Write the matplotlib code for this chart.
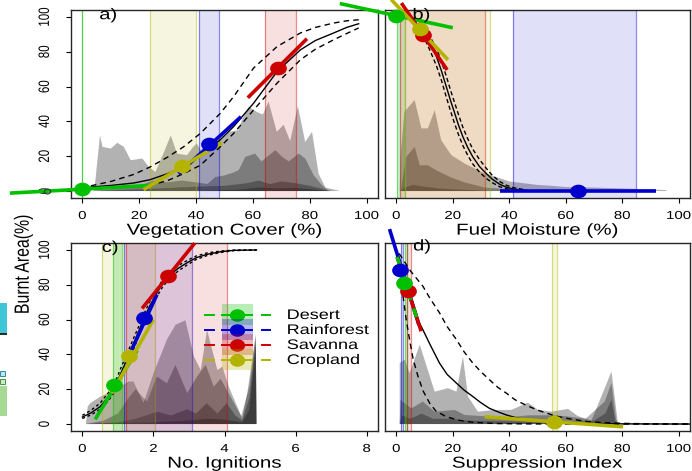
import matplotlib
matplotlib.use("Agg")
import matplotlib.pyplot as plt
from matplotlib.patheffects import AbstractPathEffect
from matplotlib.transforms import Affine2D
from matplotlib.path import Path
from matplotlib.patches import Rectangle

plt.rcParams['font.family'] = ['Liberation Sans', 'DejaVu Sans']

W, H = 692, 471
SX = 1.3          # horizontal widening of glyphs and point markers

# ---------------------------------------------------------------- colours
biomes = ['Desert', 'Rainforest', 'Savanna', 'Cropland']
colours = {'Desert': '#00C000', 'Rainforest': '#0000CC',
           'Savanna': '#CC0000', 'Cropland': '#B4B400'}

# ---------------------------------------------------------------- a) vegetation cover
veg_bands = {'Desert': (0.0, 0.0), 'Cropland': (23.7, 40.0),
             'Rainforest': (41.1, 48.2), 'Savanna': (64.2, 75.0)}
veg_layers = [
    ([3.9, 4.5, 6.2, 7.1, 10, 12.3, 14.6, 17, 21.1, 23.4, 25.7, 28.5, 31.1, 33.3, 36.8, 39, 40.3,
      42, 44, 46.7, 49, 51.4, 54.9, 56.1, 58.5, 61.4, 63.5, 65.5, 68.4, 70.8, 73.1, 75.8, 78.4,
      80.8, 83.1, 85.5, 90.7],
     [0, 5, 32, 25.4, 24.4, 27.7, 25.4, 17.7, 18.7, 13.8, 10.9, 21.5, 32, 21.5, 20.6, 25.4, 27.3,
      22.5, 25, 27.3, 30, 34, 35, 40.8, 48.4, 45.4, 44, 51.3, 34, 38.1, 28.7, 48.8, 28.2,
      34, 10, 2, 0]),
    ([3.9, 10, 20, 25, 30, 35, 40, 44, 46.7, 50, 53, 55, 57.3, 60.8, 63, 67.9, 70, 72.6, 76.1,
      78.4, 81.4, 84.3, 86.7],
     [0, 1, 3, 6, 5, 6, 5, 4, 8, 9, 10.5, 12, 19.6, 21.5, 17, 23.5, 20, 17, 21.5,
      18.7, 9, 3.3, 0]),
    ([5, 20, 40, 50, 58, 62, 66, 70, 75, 80, 85, 88],
     [0, 1, 2.5, 3, 4.5, 6, 4, 5.5, 4.5, 3, 1, 0]),
    ([40, 55, 62, 68, 75, 82, 86],
     [0, 0.8, 2, 1.5, 1.8, 0.8, 0]),
]
veg_x = [3, 10, 18, 23.8, 30, 35.6, 41.5, 48.5, 53.2, 60.2, 68.5, 76.7, 82, 88.4, 93, 97.2]
veg_fit = [2.3, 3.2, 4.6, 6.5, 10, 14, 20.5, 29.5, 37, 50.4, 68.6, 81.1, 86.5, 90.8, 94, 96.1]
veg_hi = [3.0, 5.5, 9.5, 13.8, 19.5, 25.4, 33.1, 44.6, 54.2, 70.6, 83, 90.8, 94, 96.5, 97.8, 98.4]
veg_lo = [1.5, 1.8, 2.5, 3.3, 6, 10, 14.8, 25.4, 33.1, 46.5, 62, 75.4, 81.5, 86.9, 90.5, 93.7]
# biome: (point x, point y, segment x0, y0, x1, y1)
veg_eff = {'Desert': (0, 1.4, -25.5, -1.2, 24.9, 3.3),
           'Rainforest': (44.7, 26.9, 33.8, 10, 55.8, 42.7),
           'Cropland': (35, 14.4, 21.5, 0.8, 49.1, 27.7),
           'Savanna': (68.7, 70.6, 58.2, 53.6, 79, 87.5)}
veg_extra_x, veg_extra_y = [-12.4], [0.0]

# ---------------------------------------------------------------- b) fuel moisture
fm_bands = {'Desert': (0.3, 3.0), 'Savanna': (1.3, 31.3),
            'Cropland': (3.0, 33.2), 'Rainforest': (41.3, 85.0)}
fm_layers = [
    ([1.2, 1.5, 2.9, 6.5, 8.9, 11.2, 13.6, 15.9, 19.5, 24.2, 30.1, 36, 40, 45, 50, 55, 60, 70, 80,
      90, 95.7, 95.7],
     [0, 20, 45.6, 52.3, 36, 36, 46.5, 29.2, 20.6, 15.8, 11, 7.7, 5.5, 4.5, 3.5, 3, 2.3, 2, 1.5,
      1, 0.5, 0]),
    ([1.6, 3.5, 6.5, 8.3, 11.2, 14.2, 19.5, 24.2, 31.3, 40, 50, 60],
     [0, 19.6, 25.4, 14.8, 14.8, 11.9, 7.7, 5, 2, 1, 0.5, 0]),
    ([1.6, 3, 6, 10, 15, 20, 30, 35],
     [0, 2, 3.5, 2.5, 1.5, 1, 0.3, 0]),
]
fm_x = [6, 8.3, 10, 12, 14.2, 16, 17.7, 19.2, 20.7, 22, 23.6, 25.3, 27.1, 29.5, 31.9, 34,
        36.6, 39, 41.3, 46]
fm_fit = [97.5, 95, 90.8, 85, 77.3, 69, 60, 52, 44.6, 38, 31.1, 25, 19.6, 14, 10, 6.8,
          3.9, 2.2, 1.2, 0.3]
fm_hi = [98.5, 96.8, 93.5, 88.5, 82, 74.5, 66, 58, 50.5, 44, 36.5, 30, 24, 18, 13, 9,
         5.5, 3.3, 2.0, 0.6]
fm_lo = [96, 92.5, 87.5, 80.5, 72, 63.5, 54, 46, 38.5, 32.5, 26, 20.5, 15.5, 10.8, 7.2, 4.8,
         2.5, 1.3, 0.6, 0.1]
fm_eff = {'Rainforest': (64.3, 0.2, 36.6, 0.2, 91.9, 0.2),
          'Desert': (0, 100.5, -20, 107.7, 20, 93.8),
          'Savanna': (9.5, 89.8, 1.8, 108, 18, 69.6),
          'Cropland': (8.3, 93, -1.8, 110, 18.3, 75.4)}

# ---------------------------------------------------------------- c) ignitions
ig_bands = {'Cropland': (0.55, 2.05), 'Desert': (0.86, 1.11),
            'Rainforest': (1.17, 3.09), 'Savanna': (1.22, 4.08)}
ig_layers = [
    ([0.1, 0.15, 0.22, 0.5, 0.95, 1.3, 1.44, 1.72, 2.0, 2.38, 2.62, 2.9, 3.14, 3.33, 3.51, 3.8,
      3.94, 4.12, 4.5, 4.64, 4.88, 4.9],
     [0, 10, 12, 15.7, 20, 24.4, 24.4, 12, 29, 48.5, 57, 59.6, 38.8, 31, 54, 31,
      33, 21.5, 3.3, 17.7, 51.3, 0]),
    ([0.1, 0.6, 1.0, 1.3, 1.5, 1.82, 2.1, 2.38, 2.62, 2.95, 3.23, 3.47, 3.7, 3.89, 4.17, 4.47,
      4.7, 4.88, 4.9],
     [0, 2, 6, 15, 20, 12.9, 27.3, 23.4, 34, 17.7, 27.3, 34, 21.5, 26, 15.7, 4.5,
      21.5, 51, 0]),
    ([0.1, 1, 1.5, 2.1, 2.5, 2.95, 3.2, 3.5, 3.8, 4.06, 4.3, 4.5, 4.7, 4.88, 4.9],
     [0, 1, 3, 7, 5, 8.5, 6, 12, 6, 12, 5, 2, 15, 48, 0]),
    ([0.1, 2, 3, 3.5, 4, 4.5, 4.7, 4.88, 4.9],
     [0, 1, 2, 3, 2.5, 1, 8, 45, 0]),
]
ig_x = [0, 0.25, 0.5, 0.75, 0.92, 1.1, 1.3, 1.5, 1.74, 1.9, 2.1, 2.25, 2.43, 2.7, 2.95,
        3.2, 3.51, 3.9, 4.26, 4.9]
ig_fit = [4, 6.5, 10, 16, 21.5, 30, 39.2, 49, 61, 68, 75.4, 80.5, 85, 89.5, 92.7,
          95.5, 97.5, 99, 99.8, 100]
ig_hi = [5, 8, 12, 18.5, 24, 33, 42.5, 52, 63.5, 70.5, 77.5, 82.5, 86.8, 91, 94,
         96.5, 98.3, 99.4, 99.9, 100]
ig_lo = [3.2, 5.3, 8.5, 13.8, 19, 27, 36, 46, 58.5, 65.5, 73.3, 78.5, 83.2, 88, 91.4,
         94.5, 96.8, 98.6, 99.6, 100]
ig_eff = {'Desert': (0.9, 22.7, 0.36, 2.7, 1.54, 42.3),
          'Cropland': (1.3, 39.2, 0.83, 17.7, 2.0, 60),
          'Rainforest': (1.74, 61, 1.3, 38.8, 2.1, 74.4),
          'Savanna': (2.41, 85, 1.68, 66.4, 3.16, 103.9)}

# ---------------------------------------------------------------- d) suppression
sup_bands = {'Rainforest': (1.6, 2.2), 'Desert': (3.2, 3.8),
             'Savanna': (3.8, 5.2), 'Cropland': (55.2, 56.8)}
sup_layers = [
    ([1.2, 1.2, 3, 4.7, 8.3, 13.6, 18.3, 21.3, 23.6, 25.4, 28.9, 34.8, 40.7, 46.6, 50.2, 54.9,
      60.8, 64.3, 69.1, 72.6, 75, 76.2, 77.3, 78.5],
     [0, 35, 37, 29.2, 45.6, 18.6, 20.6, 18.6, 38.8, 15.8, 7.1, 8.1, 8.1, 12.3, 8.1, 7.1,
      8.7, 4.6, 2, 15.8, 25.4, 30.2, 15.8, 0]),
    ([1.2, 1.5, 5.3, 9.4, 13.6, 20.7, 24.2, 30, 40, 47, 55, 60, 67, 73.8, 76.2, 77.8, 78.5],
     [0, 13.8, 9, 12.9, 7.1, 8.1, 5.2, 4.6, 4, 5, 5, 4.5, 3, 12.9, 23.5, 3, 0]),
    ([1.2, 2, 5, 9, 13, 20, 25, 40, 55, 65, 70, 74, 76.2, 77.5, 78.5],
     [0, 5, 3, 6, 3, 3, 2, 1.5, 1.5, 1.5, 2, 6, 14, 2, 0]),
]
sup_fit_x = [1, 3, 5, 7, 9.4, 12, 15.3, 18, 21.3, 24, 27.1, 30, 33, 36, 39, 42, 45.7, 50,
             56.4, 62, 68, 74, 80, 90, 104]
sup_fit = [95, 82, 71, 62, 54.2, 45.5, 35, 28.5, 23.5, 19.5, 15.8, 12.2, 9, 7, 5.2, 3.8,
           2.7, 1.8, 1, 0.6, 0.3, 0.15, 0.1, 0.05, 0]
sup_hi_x = [1, 3, 5, 7, 9.4, 12, 15.3, 18, 21.3, 24, 27.1, 30, 33, 36, 39, 42, 45.7, 50,
            56.4, 62, 68.2, 74, 80, 90, 104]
sup_hi = [98, 93, 88, 84, 79.2, 72, 63.9, 56, 48.5, 41.5, 35, 30, 25.4, 21, 17.7, 14, 11, 8,
          4.6, 2.8, 1.3, 0.8, 0.4, 0.1, 0]
sup_lo_x = [1, 2.4, 3.5, 4.7, 6, 7.7, 9.5, 11.8, 14, 17.7, 22, 27.1, 35, 45, 60, 80, 104]
sup_lo = [96, 73.5, 60, 48.5, 37, 27.3, 19, 12, 7.5, 4.2, 2.2, 1, 0.3, 0.1, 0, 0, 0]
sup_eff = {'Rainforest': (1.2, 88.3, -2.4, 112, 8.0, 57),
           'Savanna': (4.1, 76.3, 0.3, 96, 8.8, 53.3),
           'Desert': (2.9, 81.2, 0.3, 96, 8.0, 57),
           'Cropland': (56, 1.3, 31.3, 4.2, 80.3, -1.6)}
sup_dashed = ['Desert']


# ---------------------------------------------------------------- helpers
class Widen(AbstractPathEffect):
    """Stretch glyph outlines horizontally about their left edge or centre."""

    def __init__(self, sx=SX, about='center'):
        super().__init__()
        self.sx = sx
        self.about = about

    def draw_path(self, renderer, gc, tpath, affine, rgbFace=None):
        ext = tpath.get_extents(affine)
        cx = ext.x0 if self.about == 'left' else 0.5 * (ext.x0 + ext.x1)
        aff = affine + Affine2D().translate(-cx, 0).scale(self.sx, 1).translate(cx, 0)
        renderer.draw_path(gc, tpath, aff, rgbFace)


_circ = Path.unit_circle()
DOT = Path(_circ.vertices * [1.0, 1.0 / SX * 1.04], _circ.codes)


def fx(px):
    return px / W


def fy(py):
    return 1 - py / H


def make_axes(fig, x0, y0, x1, y1):
    return fig.add_axes([fx(x0), fy(y1), (x1 - x0) / W, (y1 - y0) / H])


def fmt(v):
    return str(int(v)) if float(v).is_integer() else str(v)


def draw_panel(ax, xlim, xticks, bands, layers, fits, effects, tag, tag_xy, xlabel,
               yaxis, dash_pattern=(4, 3), dashed=()):
    ax.set_xlim(*xlim)
    ax.set_ylim(-4, 104)
    for xs, ys in layers:
        ax.fill(xs, ys, color='black', alpha=0.30, lw=0, zorder=1)
    for b, (lo, hi) in bands.items():
        c = colours[b]
        if hi > lo:
            ax.axvspan(lo, hi, color=c, alpha=0.12 if b != 'Desert' else 0.2, lw=0, zorder=2)
        ax.axvline(lo, color=c, alpha=0.45, lw=0.9, zorder=2)
        ax.axvline(hi, color=c, alpha=0.45, lw=0.9, zorder=2)
    (fx_, fit), (hx_, hi_), (lx_, lo_) = fits
    ax.plot(fx_, fit, color='black', lw=1.0, zorder=3)
    ax.plot(hx_, hi_, color='black', lw=1.0, ls=(0, dash_pattern), zorder=3)
    ax.plot(lx_, lo_, color='black', lw=1.0, ls=(0, dash_pattern), zorder=3)
    for b, (px, py, x0, y0, x1, y1) in effects.items():
        c = colours[b]
        ls = (0, (2.5, 2.5)) if b in dashed else '-'
        ax.plot([x0, x1], [y0, y1], color=c, lw=2.6, ls=ls, solid_capstyle='butt',
                dash_capstyle='butt', zorder=4, clip_on=False)
        ax.plot([px], [py], marker=DOT, ms=11, color=c, mec=c, ls='none',
                zorder=5, clip_on=False)
    ax.text(tag_xy[0], tag_xy[1], tag, fontsize=11.2, ha='left', va='center',
            path_effects=[Widen(about='left')], zorder=6)

    ax.set_xticks(xticks)
    ax.set_xticklabels([fmt(t) for t in xticks])
    ax.tick_params(axis='x', length=3.6, width=0.8, pad=5.0, labelsize=8.3,
                   direction='out', colors='black')
    for lab in ax.get_xticklabels():
        lab.set_path_effects([Widen()])
    ax.set_xlabel(xlabel, fontsize=11.4, labelpad=0.5)
    ax.xaxis.label.set_path_effects([Widen()])
    if yaxis:
        yt = [0, 20, 40, 60, 80, 100]
        ax.set_yticks(yt)
        ax.set_yticklabels([fmt(t) for t in yt], rotation=90, va='center')
        ax.tick_params(axis='y', length=3.6, width=0.8, pad=11, labelsize=8.3,
                       direction='out')
        for lab in ax.get_yticklabels():
            lab.set_path_effects([Widen()])
    else:
        ax.set_yticks([])
    for sp in ax.spines.values():
        sp.set_color('#262626')
        sp.set_linewidth(1.0)
    ax.set_facecolor('white')


# ---------------------------------------------------------------- figure
fig = plt.figure(figsize=(W / 100, H / 100), dpi=100)
fig.patch.set_facecolor('white')

# slivers of the neighbouring figure at the left border
fig.add_artist(Rectangle((fx(0), fy(335)), fx(7), 32 / H, transform=fig.transFigure,
                         facecolor='#3ec6d6', edgecolor='none'))
fig.add_artist(Rectangle((fx(0), fy(335)), fx(7), 2 / H, transform=fig.transFigure,
                         facecolor='#2a2a2a', edgecolor='none'))
fig.add_artist(Rectangle((fx(0), fy(376)), fx(5), 5 / H, transform=fig.transFigure,
                         facecolor='#bfe6ea', edgecolor='#2c8c9a', lw=0.7))
fig.add_artist(Rectangle((fx(0), fy(384)), fx(5), 5 / H, transform=fig.transFigure,
                         facecolor='#cdebc0', edgecolor='#4c8c4a', lw=0.7))
fig.add_artist(Rectangle((fx(0), fy(416)), fx(7), 30 / H, transform=fig.transFigure,
                         facecolor='#a6da94', edgecolor='none'))

ax_a = make_axes(fig, 71, 10, 378, 198)
ax_b = make_axes(fig, 385, 10, 690, 198)
ax_c = make_axes(fig, 71, 243, 378, 431)
ax_d = make_axes(fig, 385, 243, 690, 431)

ticks100 = [0, 20, 40, 60, 80, 100]

draw_panel(ax_a, (-4, 104), ticks100, veg_bands, veg_layers,
           [(veg_x, veg_fit), (veg_x, veg_hi), (veg_x, veg_lo)], veg_eff,
           'a)', (6.0, 101.3), 'Vegetation Cover (%)', True)
ax_a.plot(veg_extra_x, veg_extra_y, marker=DOT, ms=4.5, mfc='none', mec='#333333',
          mew=0.8, ls='none', clip_on=False, zorder=5)

draw_panel(ax_b, (-4, 104), ticks100, fm_bands, fm_layers,
           [(fm_x, fm_fit), (fm_x, fm_hi), (fm_x, fm_lo)], fm_eff,
           'b)', (5.8, 101.3), 'Fuel Moisture (%)', False, dash_pattern=(3, 2))

draw_panel(ax_c, (-0.32, 8.32), [0, 2, 4, 6, 8], ig_bands, ig_layers,
           [(ig_x, ig_fit), (ig_x, ig_hi), (ig_x, ig_lo)], ig_eff,
           'c)', (0.55, 101.5), 'No. Ignitions', True, dash_pattern=(2, 2))

draw_panel(ax_d, (-4, 104), ticks100, sup_bands, sup_layers,
           [(sup_fit_x, sup_fit), (sup_hi_x, sup_hi), (sup_lo_x, sup_lo)], sup_eff,
           'd)', (6.0, 102.3), 'Suppression Index', False, dashed=sup_dashed)

# shared y label
fig.text(fx(23), fy(264), 'Burnt Area(%)', rotation=90, ha='center', va='center',
         fontsize=11.4, path_effects=[Widen()])

# legend drawn inside panel c
rows_py = [315, 330, 345, 360]
tf = fig.transFigure
for b, py in zip(biomes, rows_py):
    c = colours[b]
    fig.add_artist(Rectangle((fx(222), fy(py + 10)), 31 / W, 21 / H, transform=tf,
                             facecolor=c, alpha=0.28, edgecolor='none', zorder=7))
for b, py in zip(biomes, rows_py):
    c = colours[b]
    ax_c.plot([fx(205), fx(214)], [fy(py)] * 2, color=c, lw=1.4, transform=tf,
              clip_on=False, zorder=8)
    ax_c.plot([fx(222), fx(252)], [fy(py)] * 2, color=c, lw=1.4, transform=tf,
              clip_on=False, zorder=8)
    ax_c.plot([fx(262), fx(270)], [fy(py)] * 2, color=c, lw=1.4, transform=tf,
              clip_on=False, zorder=8)
    ax_c.plot([fx(237)], [fy(py)], marker=DOT, ms=10, color=c, transform=tf,
              clip_on=False, zorder=9)
    ax_c.text(fx(287), fy(py), b, transform=tf, fontsize=10, ha='left', va='center',
              path_effects=[Widen(about='left')], zorder=9)

fig.savefig('out.png', dpi=100, facecolor='white')
